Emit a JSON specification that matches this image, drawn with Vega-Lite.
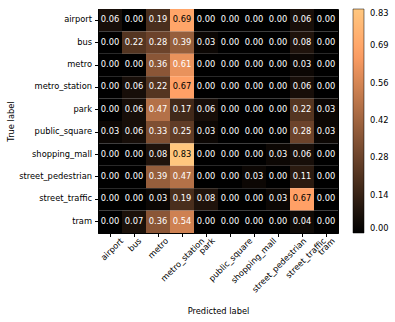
{
  "$schema": "https://vega.github.io/schema/vega-lite/v6.json",
  "width": 240,
  "height": 224,
  "autosize": {"type": "none"},
  "padding": {"left": 98, "top": 9, "right": 57, "bottom": 89},
  "config": {
    "font": "DejaVu Sans",
    "view": {"stroke": "#000000", "strokeWidth": 1},
    "axis": {"labelFont": "DejaVu Sans", "titleFont": "DejaVu Sans", "labelFontSize": 8.3, "titleFontSize": 8.3, "titleFontWeight": "normal", "labelColor": "#000000", "titleColor": "#000000", "domainColor": "#000000", "tickColor": "#000000", "tickSize": 3.5, "grid": false}
  },
  "datasets": {
    "cm": [
      {"t":"airport","p":"airport","v":0.06},{"t":"airport","p":"bus","v":0.00},{"t":"airport","p":"metro","v":0.19},{"t":"airport","p":"metro_station","v":0.69},{"t":"airport","p":"park","v":0.00},{"t":"airport","p":"public_square","v":0.00},{"t":"airport","p":"shopping_mall","v":0.00},{"t":"airport","p":"street_pedestrian","v":0.00},{"t":"airport","p":"street_traffic","v":0.06},{"t":"airport","p":"tram","v":0.00},
      {"t":"bus","p":"airport","v":0.00},{"t":"bus","p":"bus","v":0.22},{"t":"bus","p":"metro","v":0.28},{"t":"bus","p":"metro_station","v":0.39},{"t":"bus","p":"park","v":0.03},{"t":"bus","p":"public_square","v":0.00},{"t":"bus","p":"shopping_mall","v":0.00},{"t":"bus","p":"street_pedestrian","v":0.00},{"t":"bus","p":"street_traffic","v":0.08},{"t":"bus","p":"tram","v":0.00},
      {"t":"metro","p":"airport","v":0.00},{"t":"metro","p":"bus","v":0.00},{"t":"metro","p":"metro","v":0.36},{"t":"metro","p":"metro_station","v":0.61},{"t":"metro","p":"park","v":0.00},{"t":"metro","p":"public_square","v":0.00},{"t":"metro","p":"shopping_mall","v":0.00},{"t":"metro","p":"street_pedestrian","v":0.00},{"t":"metro","p":"street_traffic","v":0.03},{"t":"metro","p":"tram","v":0.00},
      {"t":"metro_station","p":"airport","v":0.00},{"t":"metro_station","p":"bus","v":0.06},{"t":"metro_station","p":"metro","v":0.22},{"t":"metro_station","p":"metro_station","v":0.67},{"t":"metro_station","p":"park","v":0.00},{"t":"metro_station","p":"public_square","v":0.00},{"t":"metro_station","p":"shopping_mall","v":0.00},{"t":"metro_station","p":"street_pedestrian","v":0.00},{"t":"metro_station","p":"street_traffic","v":0.06},{"t":"metro_station","p":"tram","v":0.00},
      {"t":"park","p":"airport","v":0.00},{"t":"park","p":"bus","v":0.06},{"t":"park","p":"metro","v":0.47},{"t":"park","p":"metro_station","v":0.17},{"t":"park","p":"park","v":0.06},{"t":"park","p":"public_square","v":0.00},{"t":"park","p":"shopping_mall","v":0.00},{"t":"park","p":"street_pedestrian","v":0.00},{"t":"park","p":"street_traffic","v":0.22},{"t":"park","p":"tram","v":0.03},
      {"t":"public_square","p":"airport","v":0.03},{"t":"public_square","p":"bus","v":0.06},{"t":"public_square","p":"metro","v":0.33},{"t":"public_square","p":"metro_station","v":0.25},{"t":"public_square","p":"park","v":0.03},{"t":"public_square","p":"public_square","v":0.00},{"t":"public_square","p":"shopping_mall","v":0.00},{"t":"public_square","p":"street_pedestrian","v":0.00},{"t":"public_square","p":"street_traffic","v":0.28},{"t":"public_square","p":"tram","v":0.03},
      {"t":"shopping_mall","p":"airport","v":0.00},{"t":"shopping_mall","p":"bus","v":0.00},{"t":"shopping_mall","p":"metro","v":0.08},{"t":"shopping_mall","p":"metro_station","v":0.83},{"t":"shopping_mall","p":"park","v":0.00},{"t":"shopping_mall","p":"public_square","v":0.00},{"t":"shopping_mall","p":"shopping_mall","v":0.00},{"t":"shopping_mall","p":"street_pedestrian","v":0.03},{"t":"shopping_mall","p":"street_traffic","v":0.06},{"t":"shopping_mall","p":"tram","v":0.00},
      {"t":"street_pedestrian","p":"airport","v":0.00},{"t":"street_pedestrian","p":"bus","v":0.00},{"t":"street_pedestrian","p":"metro","v":0.39},{"t":"street_pedestrian","p":"metro_station","v":0.47},{"t":"street_pedestrian","p":"park","v":0.00},{"t":"street_pedestrian","p":"public_square","v":0.00},{"t":"street_pedestrian","p":"shopping_mall","v":0.03},{"t":"street_pedestrian","p":"street_pedestrian","v":0.00},{"t":"street_pedestrian","p":"street_traffic","v":0.11},{"t":"street_pedestrian","p":"tram","v":0.00},
      {"t":"street_traffic","p":"airport","v":0.00},{"t":"street_traffic","p":"bus","v":0.00},{"t":"street_traffic","p":"metro","v":0.03},{"t":"street_traffic","p":"metro_station","v":0.19},{"t":"street_traffic","p":"park","v":0.08},{"t":"street_traffic","p":"public_square","v":0.00},{"t":"street_traffic","p":"shopping_mall","v":0.00},{"t":"street_traffic","p":"street_pedestrian","v":0.03},{"t":"street_traffic","p":"street_traffic","v":0.67},{"t":"street_traffic","p":"tram","v":0.00},
      {"t":"tram","p":"airport","v":0.00},{"t":"tram","p":"bus","v":0.07},{"t":"tram","p":"metro","v":0.36},{"t":"tram","p":"metro_station","v":0.54},{"t":"tram","p":"park","v":0.00},{"t":"tram","p":"public_square","v":0.00},{"t":"tram","p":"shopping_mall","v":0.00},{"t":"tram","p":"street_pedestrian","v":0.00},{"t":"tram","p":"street_traffic","v":0.04},{"t":"tram","p":"tram","v":0.00}
    ]
  },
  "data": {"name": "cm"},
  "encoding": {
    "x": {"field": "p", "type": "nominal", "sort": null, "title": "Predicted label",
      "scale": {"paddingInner": 0, "paddingOuter": 0},
      "axis": {"labelAngle": -45, "labelAlign": "right", "labelBaseline": "middle", "labelPadding": 3, "labelLimit": 200,
        "labelOffset": {"expr": "1.5*length(datum.label)+2"},
        "titleY": 78, "titleBaseline": "middle"}},
    "y": {"field": "t", "type": "nominal", "sort": null, "title": "True label",
      "scale": {"paddingInner": 0, "paddingOuter": 0},
      "axis": {"titlePadding": 3, "labelPadding": 3}}
  },
  "layer": [
    {
      "mark": {"type": "rect"},
      "encoding": {
        "color": {"field": "v", "type": "quantitative",
          "scale": {"domain": [0, 0.16667, 0.33333, 0.5, 0.66667, 0.83333], "range": ["#000000", "#402819", "#805033", "#bf784c", "#ff9f65", "#ffc77f"], "interpolate": "rgb"},
          "legend": {"title": null, "orient": "right", "offset": 15, "padding": 0, "gradientLength": 224, "gradientThickness": 11, "gradientStrokeColor": "#000000", "gradientStrokeWidth": 0.5,
            "values": [0, 0.13889, 0.27778, 0.41667, 0.55556, 0.69444, 0.83333], "format": ".2f", "labelFontSize": 8.3, "labelFont": "DejaVu Sans", "labelColor": "#000000", "labelOffset": 6, "labelBaseline": "middle", "labelOverlap": false}}
      }
    },
    {
      "mark": {"type": "text", "fontSize": 8.3, "font": "DejaVu Sans"},
      "encoding": {
        "text": {"field": "v", "type": "quantitative", "format": ".2f"},
        "color": {"condition": {"test": "datum.v >= 0.64", "value": "#000000"}, "value": "#ffffff"}
      }
    }
  ]
}
